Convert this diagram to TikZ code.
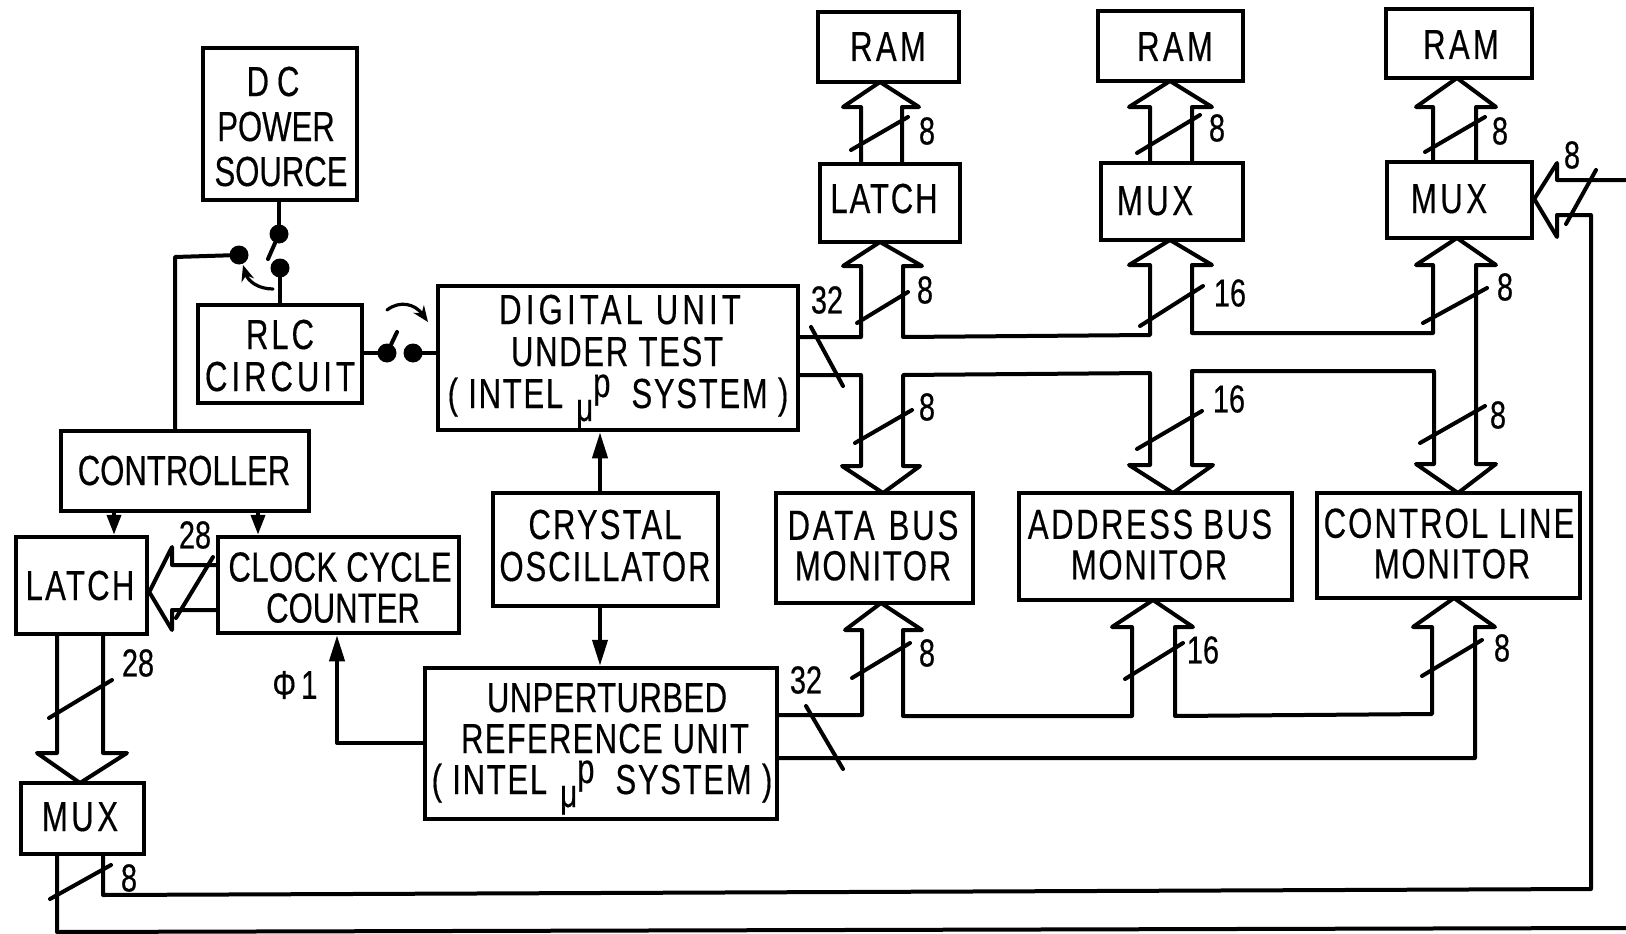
\documentclass[tikz,border=0pt]{standalone}
\usepackage{fontspec}
\setmainfont[FakeStretch=0.74,FakeBold=0.4]{Liberation Sans}
\usetikzlibrary{arrows.meta,calc}
\newcommand{\nfnt}{\fontsize{39}{39}\selectfont}
% hollow bus heads, as path fragments
% #1 xl, #2 xr, #3 wing left, #4 wing right, #5 tip x, #6 tip y, #7 wing y
\newcommand{\uph}[7]{-- (#1,#7) -- (#3,#7) -- (#5,#6) -- (#4,#7) -- (#2,#7)}
\newcommand{\mup}{\raisebox{-13pt}{\fontsize{40}{40}\selectfont μ}\raisebox{11pt}{\fontsize{42}{42}\selectfont p}}
\tikzset{
  box/.style={draw=black,line width=4.5pt,inner sep=0pt,align=center,text=black},
  ln/.style={draw=black,line width=4pt,line join=round,line cap=round},
  slash/.style={draw=black,line width=4pt,line cap=round},
  sig/.style={ln,-{Triangle[length=26pt,width=15pt]}},
  sigs/.style={ln,-{Triangle[length=20pt,width=14pt]}},
  curv/.style={draw=black,line width=3.2pt,line cap=round,-{Stealth[length=16pt,width=13pt]}},
  dot/.style={circle,fill=black,draw=none,minimum size=19pt,inner sep=0pt},
  num/.style={font=\nfnt,inner sep=0pt,text=black},
}
% one text line: #1 centre x on the sheet, #2 letter spacing, #3 text
\newcommand{\tl}[3]{\pgfmathsetlengthmacro\tlx{2*(#1-(\bcx))}\pgfmathsetlengthmacro\tly{(\bcy)-(\tcy)-14}%
  \makebox[0pt]{\hspace*{\tlx}\raisebox{\tly}[0pt][0pt]{\addfontfeature{LetterSpace=#2}#3}}}
% #1 name, #2 x1, #3 y1, #4 x2, #5 y2, #6 leading, #7 centre y of the text, #8 lines
\newcommand{\bx}[8]{%
  \def\bcx{(#2+#4)/2}\def\bcy{(#3+#5)/2}\def\tcy{#7}%
  \path let \n1={#4-#2}, \n2={#5-#3} in
    node[box,font=\fontsize{42}{#6}\selectfont,minimum width=\n1*1pt,minimum height=\n2*1pt] (#1) at ({(#2+#4)/2},{(#3+#5)/2}) {#8};}
\begin{document}
\begin{tikzpicture}[x=1pt,y=-1pt]
\useasboundingbox (0,0) rectangle (1626,934);
\bx{dc}{203}{48}{357}{200}{45}{127}{\tl{273}{0}{D\hspace{8pt}C}\\\tl{276}{0}{POWER}\\\tl{281}{0}{SOURCE}}
\bx{rlc}{198}{305}{362}{403}{42}{356}{\tl{280}{7}{RLC}\\\tl{280}{9.5}{CIRCUIT}}
\bx{ctrl}{61}{431}{309}{511}{42}{471}{\tl{184}{0}{CONTROLLER}}
\bx{latcha}{16}{537}{147}{634}{42}{586}{\tl{80}{5.5}{LATCH}}
\bx{clk}{218}{537}{459}{633}{41}{588}{\tl{340}{1}{CLOCK CYCLE}\\\tl{343}{0}{COUNTER}}
\bx{dig}{438}{286}{798}{430}{42}{352}{\tl{620}{10}{DIGITAL UNIT}\\\tl{617}{4}{UNDER TEST}\\\tl{618}{4}{( INTEL\hspace{13pt}\mup\hspace{21pt}SYSTEM )}}
\bx{xtal}{493}{493}{718}{606}{42}{546}{\tl{605}{5}{CRYSTAL}\\\tl{605}{4.5}{OSCILLATOR}}
\bx{ref}{425}{668}{777}{819}{41}{739}{\tl{607}{1}{UNPERTURBED}\\\tl{605}{3}{REFERENCE UNIT}\\\tl{602}{4}{( INTEL\hspace{13pt}\mup\hspace{21pt}SYSTEM )}}
\bx{muxa}{21}{783}{144}{854}{42}{817}{\tl{80}{8.5}{MUX}}
\bx{ram1}{818}{12}{959}{82}{42}{47}{\tl{888}{8}{RAM}}
\bx{ram2}{1098}{11}{1243}{81}{42}{47}{\tl{1175}{8}{RAM}}
\bx{ram3}{1386}{9}{1532}{78}{42}{45}{\tl{1461}{8}{RAM}}
\bx{latchb}{820}{164}{960}{242}{42}{199}{\tl{884}{4.5}{LATCH}}
\bx{muxb}{1101}{163}{1243}{240}{42}{201}{\tl{1155}{8.5}{MUX}}
\bx{muxc}{1387}{162}{1532}{238}{42}{199}{\tl{1449}{8.5}{MUX}}
\bx{dmon}{776}{493}{973}{603}{40.5}{546}{\tl{873}{7}{DATA\hspace{14pt}BUS}\\\tl{873}{4}{MONITOR}}
\bx{amon}{1019}{493}{1292}{600}{40.5}{545}{\tl{1150}{6}{ADDRESS\hspace{10pt}BUS}\\\tl{1149}{4}{MONITOR}}
\bx{cmon}{1317}{493}{1580}{598}{40.5}{544}{\tl{1449}{5}{CONTROL LINE}\\\tl{1452}{4}{MONITOR}}
% power switch
\node[dot] (s1) at (279,234) {};
\node[dot] (s2) at (280,268) {};
\node[dot] (s3) at (239,255) {};
\coordinate (s1e) at (268,259);
\draw[ln] (dc.south -| s1) -- (s1);
\draw[ln] (s1) -- (s1e);
\draw[ln] (s2) -- (s2 |- rlc.north);
\draw[ln] (175,0 |- ctrl.north) -- (175,257) -- (s3);
\coordinate (ca1) at (273,289);
\coordinate (ca2) at (243,265);
\draw[curv] (ca1) .. controls (258,289) and (248,281) .. (ca2);
% rlc switch
\node[dot] (s4) at (387,353) {};
\node[dot] (s5) at (413,353) {};
\coordinate (s4e) at (397,332);
\draw[ln] (rlc.east |- s4) -- (s4);
\draw[ln] (s4) -- (s4e);
\draw[ln] (s5) -- (dig.west |- s5);
\coordinate (cb1) at (387,310);
\coordinate (cb2) at (428,322);
\draw[curv] (cb1) .. controls (400,300) and (415,304) .. (cb2);
% controller arrows
\draw[sigs] (114,0 |- ctrl.south) -- (114,0 |- latcha.north);
\draw[sigs] (258,0 |- ctrl.south) -- (258,0 |- clk.north);
% crystal
\draw[sig] (600,0 |- xtal.north) -- (600,0 |- dig.south);
\draw[sig] (600,0 |- xtal.south) -- (600,0 |- ref.north);
% phi1
\draw[sig] (ref.west |- 0,743) -- (337,743) -- (337,0 |- clk.south);
\node[num] (phi) at (295,685) {\fontsize{40}{40}\selectfont Φ\hspace{5pt}1};
% clock to latch bus
\draw[ln] (clk.west |- 0,565) -- (172,565) -- (172,547) -- (latcha.east |- 0,592) -- (172,630) -- (172,610) -- (clk.west |- 0,610);
\draw[slash] (176,618) -- (213,557);
\node[num] (n28a) at (195,535) {28};
% latch to mux bus
\draw[ln] (57,0 |- latcha.south) \uph{57}{103}{37}{127}{80}{783}{753} -- (103,0 |- latcha.south);
\draw[slash] (49,718) -- (112,680);
\node[num] (n28b) at (138,663) {28};
% mux tail
\draw[ln] (103,0 |- muxa.south) -- (103,895) -- (1591,889) -- (1591,215) -- (1557,215) -- (1557,237) -- (muxc.east |- 0,199) -- (1557,163) -- (1557,180) -- (1626,180);
\draw[ln] (57,0 |- muxa.south) -- (57,932) -- (1626,928);
\draw[slash] (50,899) -- (111,865);
\node[num] (n8m) at (129,878) {8};
\draw[slash] (1566,224) -- (1596,170);
\node[num] (n8s) at (1572,155) {8};
% RAM buses
\draw[ln] (861,0 |- latchb.north) \uph{861}{902}{843}{919}{880}{82}{107} -- (902,0 |- latchb.north);
\draw[ln] (1150,0 |- muxb.north) \uph{1150}{1192}{1129}{1212}{1170}{81}{107} -- (1192,0 |- muxb.north);
\draw[ln] (1433,0 |- muxc.north) \uph{1433}{1476}{1416}{1496}{1457}{78}{107} -- (1476,0 |- muxc.north);
\draw[slash] (851,150) -- (908,117);
\draw[slash] (1137,153) -- (1200,115);
\draw[slash] (1425,152) -- (1485,117);
\node[num] (n8a) at (927,131) {8};
\node[num] (n8b) at (1217,128) {8};
\node[num] (n8c) at (1500,131) {8};
% upper data bus
\draw[ln] (dig.east |- 0,337) -- (861,337) \uph{861}{903}{843}{922}{880}{242}{266} -- (903,337) -- (1150,335) \uph{1150}{1192}{1129}{1212}{1170}{240}{265} -- (1192,333) -- (1433,333) \uph{1433}{1476}{1416}{1496}{1457}{238}{265} -- (1476,464) -- (1496,464) -- (1458,493) -- (1416,464) -- (1434,464) -- (1434,371) -- (1192,371) -- (1192,465) -- (1213,465) -- (1173,493) -- (1129,465) -- (1150,465) -- (1150,373) -- (903,375) -- (903,466) -- (920,466) -- (883,493) -- (842,466) -- (861,466) -- (861,375) -- (dig.east |- 0,375);
\draw[slash] (811,327) -- (843,386);
\node[num] (n32a) at (827,300) {32};
\draw[slash] (857,323) -- (908,292);
\draw[slash] (1140,326) -- (1203,286);
\draw[slash] (1423,323) -- (1487,288);
\draw[slash] (855,443) -- (912,410);
\draw[slash] (1137,449) -- (1202,411);
\draw[slash] (1420,443) -- (1485,406);
\node[num] (n8d) at (925,290) {8};
\node[num] (n16a) at (1230,293) {16};
\node[num] (n8e) at (1505,287) {8};
\node[num] (n8f) at (927,407) {8};
\node[num] (n16b) at (1229,399) {16};
\node[num] (n8g) at (1498,415) {8};
% lower reference bus
\draw[ln] (ref.east |- 0,715) -- (862,715) \uph{862}{903}{845}{922}{881}{603}{630} -- (903,716) -- (1132,716) \uph{1132}{1175}{1112}{1193}{1153}{600}{627} -- (1175,716) -- (1432,714) \uph{1432}{1475}{1413}{1495}{1454}{598}{627} -- (1475,758) -- (ref.east |- 0,758);
\draw[slash] (806,706) -- (843,769);
\node[num] (n32b) at (806,680) {32};
\draw[slash] (852,678) -- (910,643);
\draw[slash] (1125,679) -- (1183,643);
\draw[slash] (1422,676) -- (1482,640);
\node[num] (n8h) at (927,653) {8};
\node[num] (n16c) at (1203,650) {16};
\node[num] (n8i) at (1502,648) {8};
\end{tikzpicture}
\end{document}
